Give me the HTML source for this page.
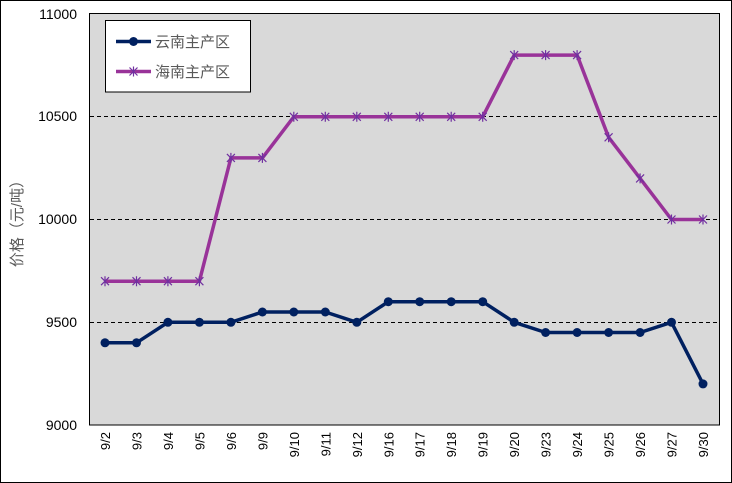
<!DOCTYPE html>
<html><head><meta charset="utf-8"><style>
body{margin:0;background:#fff}
svg{display:block;font-family:"Liberation Sans","Noto Sans CJK SC",sans-serif}
</style></head><body>
<svg width="732" height="483" viewBox="0 0 732 483">
<rect x="0.5" y="0.5" width="731" height="482" fill="#fff" stroke="#000"/>
<rect x="89.5" y="13.5" width="630" height="411.5" fill="#d9d9d9" stroke="#000"/>
<g stroke="#000" stroke-dasharray="4,3" stroke-width="1">
<line x1="90" y1="116.5" x2="719" y2="116.5"/>
<line x1="90" y1="219.5" x2="719" y2="219.5"/>
<line x1="90" y1="322.5" x2="719" y2="322.5"/>
</g>
<g font-size="14" fill="#000" text-anchor="end">
<text x="77" y="19">11000</text>
<text x="77" y="121">10500</text>
<text x="77" y="224">10000</text>
<text x="77" y="327">9500</text>
<text x="77" y="430">9000</text>
</g>
<text transform="translate(22,220) rotate(-90)" text-anchor="middle" font-size="15" fill="#595959">价格（元/吨）</text>
<g font-size="13" fill="#000" text-anchor="end">
<text transform="translate(110,432) rotate(-90)">9/2</text>
<text transform="translate(141.5,432) rotate(-90)">9/3</text>
<text transform="translate(172.9,432) rotate(-90)">9/4</text>
<text transform="translate(204.4,432) rotate(-90)">9/5</text>
<text transform="translate(235.9,432) rotate(-90)">9/6</text>
<text transform="translate(267.4,432) rotate(-90)">9/9</text>
<text transform="translate(298.8,432) rotate(-90)">9/10</text>
<text transform="translate(330.3,432) rotate(-90)">9/11</text>
<text transform="translate(361.8,432) rotate(-90)">9/12</text>
<text transform="translate(393.3,432) rotate(-90)">9/16</text>
<text transform="translate(424.7,432) rotate(-90)">9/17</text>
<text transform="translate(456.2,432) rotate(-90)">9/18</text>
<text transform="translate(487.7,432) rotate(-90)">9/19</text>
<text transform="translate(519.2,432) rotate(-90)">9/20</text>
<text transform="translate(550.6,432) rotate(-90)">9/23</text>
<text transform="translate(582.1,432) rotate(-90)">9/24</text>
<text transform="translate(613.6,432) rotate(-90)">9/25</text>
<text transform="translate(645.1,432) rotate(-90)">9/26</text>
<text transform="translate(676.5,432) rotate(-90)">9/27</text>
<text transform="translate(708,432) rotate(-90)">9/30</text>
</g>
<polyline fill="none" stroke="#993399" stroke-width="3.5" stroke-linejoin="round" points="105,281.2 136.5,281.2 167.9,281.2 199.4,281.2 230.9,157.9 262.4,157.9 293.8,116.8 325.3,116.8 356.8,116.8 388.3,116.8 419.7,116.8 451.2,116.8 482.7,116.8 514.2,55.1 545.6,55.1 577.1,55.1 608.6,137.3 640.1,178.4 671.5,219.5 703,219.5"/>
<g stroke="#7030a0" stroke-width="1.2" id="ast">
<path d="M101,277.2l8,8M109,277.2l-8,8M105,276.2v10"/>
</g>
<g stroke="#7030a0" stroke-width="1.2">
<path d="M132.5,277.2l8,8M140.5,277.2l-8,8M136.5,276.2v10"/>
<path d="M163.9,277.2l8,8M171.9,277.2l-8,8M167.9,276.2v10"/>
<path d="M195.4,277.2l8,8M203.4,277.2l-8,8M199.4,276.2v10"/>
<path d="M226.9,153.9l8,8M234.9,153.9l-8,8M230.9,152.9v10"/>
<path d="M258.4,153.9l8,8M266.4,153.9l-8,8M262.4,152.9v10"/>
<path d="M289.8,112.8l8,8M297.8,112.8l-8,8M293.8,111.8v10"/>
<path d="M321.3,112.8l8,8M329.3,112.8l-8,8M325.3,111.8v10"/>
<path d="M352.8,112.8l8,8M360.8,112.8l-8,8M356.8,111.8v10"/>
<path d="M384.3,112.8l8,8M392.3,112.8l-8,8M388.3,111.8v10"/>
<path d="M415.7,112.8l8,8M423.7,112.8l-8,8M419.7,111.8v10"/>
<path d="M447.2,112.8l8,8M455.2,112.8l-8,8M451.2,111.8v10"/>
<path d="M478.7,112.8l8,8M486.7,112.8l-8,8M482.7,111.8v10"/>
<path d="M510.2,51.1l8,8M518.2,51.1l-8,8M514.2,50.1v10"/>
<path d="M541.6,51.1l8,8M549.6,51.1l-8,8M545.6,50.1v10"/>
<path d="M573.1,51.1l8,8M581.1,51.1l-8,8M577.1,50.1v10"/>
<path d="M604.6,133.3l8,8M612.6,133.3l-8,8M608.6,132.3v10"/>
<path d="M636.1,174.4l8,8M644.1,174.4l-8,8M640.1,173.4v10"/>
<path d="M667.5,215.5l8,8M675.5,215.5l-8,8M671.5,214.5v10"/>
<path d="M699,215.5l8,8M707,215.5l-8,8M703,214.5v10"/>
</g>
<polyline fill="none" stroke="#002060" stroke-width="3.5" stroke-linejoin="round" points="105,342.8 136.5,342.8 167.9,322.3 199.4,322.3 230.9,322.3 262.4,312 293.8,312 325.3,312 356.8,322.3 388.3,301.7 419.7,301.7 451.2,301.7 482.7,301.7 514.2,322.3 545.6,332.5 577.1,332.5 608.6,332.5 640.1,332.5 671.5,322.3 703,383.9"/>
<g fill="#002060">
<circle cx="105" cy="342.8" r="4.5"/><circle cx="136.5" cy="342.8" r="4.5"/><circle cx="167.9" cy="322.3" r="4.5"/><circle cx="199.4" cy="322.3" r="4.5"/><circle cx="230.9" cy="322.3" r="4.5"/><circle cx="262.4" cy="312" r="4.5"/><circle cx="293.8" cy="312" r="4.5"/><circle cx="325.3" cy="312" r="4.5"/><circle cx="356.8" cy="322.3" r="4.5"/><circle cx="388.3" cy="301.7" r="4.5"/><circle cx="419.7" cy="301.7" r="4.5"/><circle cx="451.2" cy="301.7" r="4.5"/><circle cx="482.7" cy="301.7" r="4.5"/><circle cx="514.2" cy="322.3" r="4.5"/><circle cx="545.6" cy="332.5" r="4.5"/><circle cx="577.1" cy="332.5" r="4.5"/><circle cx="608.6" cy="332.5" r="4.5"/><circle cx="640.1" cy="332.5" r="4.5"/><circle cx="671.5" cy="322.3" r="4.5"/><circle cx="703" cy="383.9" r="4.5"/>
</g>
<rect x="105.5" y="20.5" width="145" height="71.5" fill="#fff" stroke="#000"/>
<line x1="116" y1="41.5" x2="151" y2="41.5" stroke="#002060" stroke-width="3.5"/>
<circle cx="133.5" cy="41.5" r="4.5" fill="#002060"/>
<line x1="116" y1="71.5" x2="151" y2="71.5" stroke="#993399" stroke-width="3.5"/>
<path d="M129.5,67.5l8,8M137.5,67.5l-8,8M133.5,66.5v10" stroke="#7030a0" stroke-width="1.2"/>
<g font-size="15" fill="#595959">
<text x="155" y="47">云南主产区</text>
<text x="155" y="77">海南主产区</text>
</g>
</svg>
</body></html>
